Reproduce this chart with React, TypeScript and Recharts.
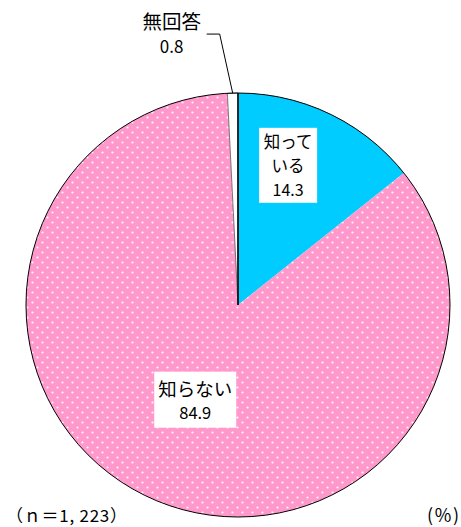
import React from "react";
import { PieChart, Pie, Cell } from "recharts";

const categories = ["知っている", "知らない", "無回答"];
const values = [14.3, 84.9, 0.8];
const labelLines = [["知って", "いる", "14.3"], ["知らない", "84.9"], ["無回答", "0.8"]];
const colors = ["#00CCFF", "url(#pinkDots)", "#FFFFFF"];
const sampleNote = "（ｎ＝1, 223）";
const unitNote = "(%)";

const data = categories.map((name, i) => ({ name, value: values[i] }));

const FONT = "'Noto Sans CJK JP', 'Noto Sans', sans-serif";
const RAD = Math.PI / 180;

// label layout (style, not data)
const labelStyle = [
  { rf: 0.7, adj: 6, w: 58, h: 75, fs: 16.5, nfs: 16, lh: 24 },
  { rf: 0.49, adj: 0, w: 82, h: 56, fs: 18.5, nfs: 16.5, lh: 24 },
  { fs: 19.5, nfs: 17, lh: 25 },
];

const isNum = (s: string) => /^[0-9.]+$/.test(s);

const renderLabel = (props: any) => {
  const { cx, cy, midAngle, outerRadius, index } = props;
  const lines = labelLines[index];
  const st: any = labelStyle[index];
  if (index === 2) {
    const sx = cx + outerRadius * Math.cos(-midAngle * RAD);
    const sy = cy + outerRadius * Math.sin(-midAngle * RAD);
    const ex = sx - 13;
    const ey = sy - 59;
    const hx = ex - 13;
    const tx = hx - 35;
    const ty = ey - 14;
    return (
      <g>
        <polyline points={`${sx},${sy} ${ex},${ey} ${hx},${ey}`} fill="none" stroke="#000" strokeWidth={1} />
        <text x={tx} y={ty} textAnchor="middle" fontFamily={FONT} fill="#000" dominantBaseline="central">
          {lines.map((t, k) => (
            <tspan key={k} x={tx} dy={k === 0 ? 0 : st.lh} fontSize={isNum(t) ? st.nfs : st.fs}>
              {t}
            </tspan>
          ))}
        </text>
      </g>
    );
  }
  const a = (midAngle + st.adj) * RAD;
  const r = outerRadius * st.rf;
  const x = cx + r * Math.cos(-a);
  const y = cy + r * Math.sin(-a);
  const top = y - ((lines.length - 1) * st.lh) / 2;
  return (
    <g>
      <rect x={x - st.w / 2} y={y - st.h / 2} width={st.w} height={st.h} fill="#fff" />
      <text x={x} y={top} textAnchor="middle" fontFamily={FONT} fill="#000" dominantBaseline="central">
        {lines.map((t, k) => (
          <tspan key={k} x={x} dy={k === 0 ? 0 : st.lh} fontSize={isNum(t) ? st.nfs : st.fs}>
            {t}
          </tspan>
        ))}
      </text>
    </g>
  );
};

export default function App() {
  return (
    <div style={{ position: "absolute", left: 0, top: 0, width: 461, height: 527, background: "#fff" }}>
      <svg width={0} height={0} style={{ position: "absolute" }}>
        <defs>
          <pattern id="pinkDots" patternUnits="userSpaceOnUse" width={10} height={10}>
            <rect width={10} height={10} fill="#FF99CC" />
            <circle cx={2.5} cy={2.5} r={1.1} fill="#FFFFFF" opacity={0.9} />
            <circle cx={7.5} cy={7.5} r={1.1} fill="#FFFFFF" opacity={0.9} />
          </pattern>
        </defs>
      </svg>
      <PieChart width={461} height={527} margin={{ top: 0, right: 0, bottom: 0, left: 0 }}>
        <Pie
          data={data}
          dataKey="value"
          nameKey="name"
          cx={238}
          cy={305}
          outerRadius={212}
          startAngle={90}
          endAngle={-270}
          stroke="none"
          isAnimationActive={false}
          label={renderLabel}
          labelLine={false}
        >
          {data.map((d, i) => (
            <Cell key={d.name} fill={colors[i]} stroke={i === 2 ? "#555" : "none"} strokeWidth={i === 2 ? 0.8 : 0} />
          ))}
        </Pie>
        <Pie
          data={[{ name: "outline", value: 1 }]}
          dataKey="value"
          cx={238}
          cy={305}
          outerRadius={212}
          startAngle={90}
          endAngle={-270}
          fill="none"
          stroke="#000"
          strokeWidth={1}
          isAnimationActive={false}
          label={false}
          labelLine={false}
        />
        <text x={6} y={514} dominantBaseline="central" fontSize={17} fontFamily={FONT} fill="#000" textLength={121} lengthAdjust="spacing">
          {sampleNote}
        </text>
        <text x={459} y={514} textAnchor="end" dominantBaseline="central" fontSize={18} fontFamily={FONT} fill="#000" textLength={32} lengthAdjust="spacing">
          {unitNote}
        </text>
      </PieChart>
    </div>
  );
}
